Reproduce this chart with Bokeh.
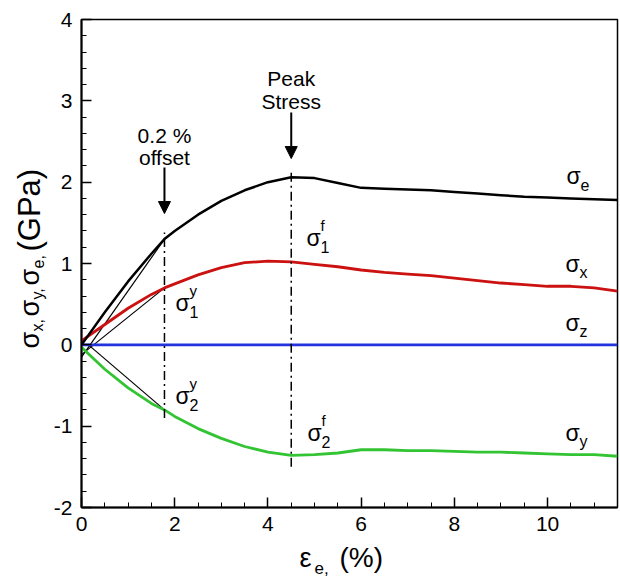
import math
from bokeh.plotting import figure
from bokeh.layouts import row, column
from bokeh.models import Range1d, SingleIntervalTicker, Label, Arrow, NormalHead, PrintfTickFormatter
from bokeh.embed import file_html
from bokeh.resources import INLINE

# ---------------- data ----------------
strain = [0, 0.5, 1, 1.5, 1.78, 2, 2.5, 3, 3.5, 4, 4.5, 5, 5.5, 6, 6.5, 7,
          7.5, 8, 8.5, 9, 9.5, 10, 10.5, 11, 11.5]
sigma_e = [0, 0.40, 0.78, 1.12, 1.30, 1.40, 1.60, 1.77, 1.90, 2.00, 2.06, 2.05,
           1.99, 1.93, 1.92, 1.91, 1.90, 1.88, 1.86, 1.84, 1.82, 1.81, 1.80, 1.79, 1.78]
sigma_x = [0.05, 0.25, 0.45, 0.62, 0.70, 0.75, 0.86, 0.95, 1.01, 1.03, 1.02, 0.99,
           0.96, 0.92, 0.89, 0.87, 0.85, 0.82, 0.79, 0.76, 0.74, 0.72, 0.72, 0.70, 0.66]
sigma_y = [-0.03, -0.30, -0.53, -0.72, -0.80, -0.88, -1.03, -1.15, -1.25, -1.32, -1.36,
           -1.35, -1.33, -1.29, -1.29, -1.30, -1.30, -1.31, -1.32, -1.32, -1.33, -1.34,
           -1.35, -1.35, -1.37]
sigma_z = [0.0] * len(strain)

# offset (construction) lines: start/end strain and stress
offset_strain = [[0.0, 1.78], [0.0, 1.78], [0.15, 1.78]]
offset_stress = [[-0.15, 1.30], [-0.12, 0.70], [0.0, -0.80]]

# vertical dash-dot markers
yield_strain = 1.78
yield_span = [-0.90, 1.38]
peak_strain = 4.5
peak_span = [-1.50, 2.15]

x_ticks_interval = 2
y_ticks_interval = 1

FONT = "Liberation Sans"
W, H = 620, 577
LW = 48          # width of the strip holding the y title
BH = 37          # height of the strip holding the x title
FL, FR = 81, 617  # page x of plot frame left / right

p = figure(width=W - LW, height=H - BH, output_backend="svg", toolbar_location=None,
           x_range=Range1d(0, 11.5), y_range=Range1d(-2, 4),
           min_border_left=FL - LW, min_border_right=W - FR, min_border_top=19,
           min_border_bottom=H - BH - 507)
p.background_fill_color = "white"
p.border_fill_color = "white"
p.grid.visible = False
p.outline_line_color = "black"
p.outline_line_width = 1.5

for ax in (p.xaxis[0], p.yaxis[0]):
    ax.axis_line_width = 2
    ax.axis_line_color = "black"
    ax.major_tick_in = 10
    ax.major_tick_out = 0
    ax.minor_tick_in = 5
    ax.minor_tick_out = 0
    ax.major_tick_line_width = 1.5
    ax.minor_tick_line_width = 1
    ax.major_tick_line_color = "black"
    ax.minor_tick_line_color = "black"
    ax.major_label_text_font = FONT
    ax.major_label_text_font_size = "21px"
    ax.major_label_text_color = "black"
    ax.major_label_standoff = 9
    ax.formatter = PrintfTickFormatter(format="%d")

p.xaxis[0].ticker = SingleIntervalTicker(interval=x_ticks_interval, num_minor_ticks=4)
p.yaxis[0].ticker = SingleIntervalTicker(interval=y_ticks_interval, num_minor_ticks=5)

# construction lines
p.multi_line(offset_strain, offset_stress, line_color="black", line_width=1.2)

# curves
p.line(strain, sigma_z, line_color="#2233dd", line_width=2.8)
p.line(strain, sigma_y, line_color="#33c433", line_width=2.8)
p.line(strain, sigma_x, line_color="#cc1111", line_width=2.8)
p.line(strain, sigma_e, line_color="black", line_width=2.5)

# dash-dot verticals
p.segment(x0=[yield_strain, peak_strain], y0=[yield_span[0], peak_span[0]],
          x1=[yield_strain, peak_strain], y1=[yield_span[1], peak_span[1]],
          line_color="black", line_width=1.5, line_dash="9 4 2 4")

# coordinate helpers for annotation placement (page pixel -> data)
X0, XS = 81.0, 536.0 / 11.5
Y0, YS = 344.3, 488.0 / 6.0


def dx(px):
    return (px - X0) / XS


def dy(py):
    return (Y0 - py) / YS


def lab(fig, text, x, y, size, align="left", baseline="middle", angle=0.0):
    fig.add_layout(Label(x=x, y=y, text=text, text_font=FONT,
                         text_font_size=f"{size}px", text_color="black",
                         text_align=align, text_baseline=baseline, angle=angle))


# arrows
for xs, ys, ye in [(yield_strain, dy(167), dy(213)), (peak_strain, dy(112), dy(158))]:
    p.add_layout(Arrow(x_start=xs, y_start=ys, x_end=xs, y_end=ye, line_width=2,
                       line_color="black",
                       end=NormalHead(size=12, fill_color="black", line_color="black")))

# annotation text
lab(p, "0.2 %", yield_strain, dy(135), 21, align="center", baseline="alphabetic")
lab(p, "offset", yield_strain, dy(157), 21, align="center", baseline="alphabetic")
lab(p, "Peak", peak_strain, dy(78), 21, align="center", baseline="alphabetic")
lab(p, "Stress", peak_strain, dy(101), 21, align="center", baseline="alphabetic")


# sigma labels with sub/superscripts
def sig(px, py, sub, sup=None):
    lab(p, "σ", dx(px), dy(py), 23)
    lab(p, sub, dx(px + 14), dy(py + 9), 16)
    if sup:
        lab(p, sup, dx(px + 14), dy(py - 12), 15)


sig(566, 175, "e")
sig(565, 263, "x")
sig(565, 322, "z")
sig(565, 432, "y")
sig(306, 237, "1", "f")
sig(307, 432, "2", "f")
sig(175, 302, "1", "y")
sig(175, 395, "2", "y")


def strip(w, h, x0, x1, bl=0, br=0):
    f = figure(width=w, height=h, output_backend="svg", toolbar_location=None,
               x_range=Range1d(x0, x1), y_range=Range1d(0, h),
               x_axis_type=None, y_axis_type=None, min_border=0,
               min_border_left=bl, min_border_right=br)
    f.grid.visible = False
    f.outline_line_color = None
    f.background_fill_color = "white"
    f.border_fill_color = "white"
    return f


# y-axis title strip (page pixel coordinates, y measured from page bottom)
left = strip(LW, H, 0, LW)
A = math.pi / 2
for text, cx, py, size in [("σ", 29, 348, 27), ("x,", 37, 331, 16),
                           ("σ", 29, 316, 27), ("y,", 37, 299, 16),
                           ("σ", 29, 285, 27), ("e,", 37, 268, 16),
                           ("(GPa)", 29, 251, 31)]:
    lab(left, text, cx, H - py, size, angle=A)

# x-axis title strip: frame aligned with the plot frame (page x FL..FR)
bottom = strip(W - LW, BH, FL, FR, bl=FL - LW, br=W - FR)
for text, px, py, size in [("ε", 299, 557, 27), ("e,", 314, 567, 17), ("(%)", 339, 557, 28)]:
    lab(bottom, text, px, H - py, size)

layout = row(left, column(p, bottom, spacing=0), spacing=0)

open("out.html", "w").write(file_html(layout, INLINE))
